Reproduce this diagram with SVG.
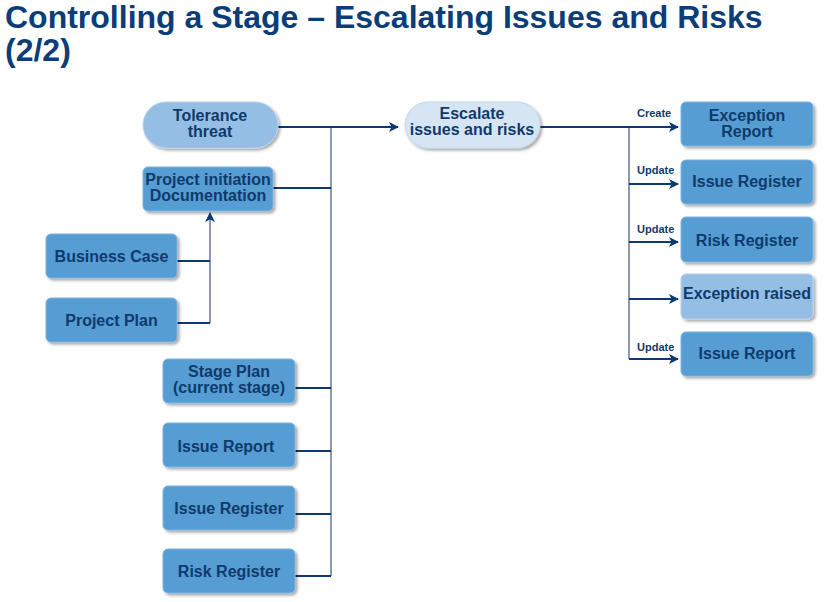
<svg xmlns="http://www.w3.org/2000/svg" width="825" height="602" viewBox="0 0 825 602">
<defs>
<filter id="sh" x="-10%" y="-10%" width="125%" height="135%">
<feGaussianBlur in="SourceAlpha" stdDeviation="1.5"/>
<feOffset dx="1.5" dy="2" result="b"/>
<feComponentTransfer><feFuncA type="linear" slope="0.35"/></feComponentTransfer>
<feMerge><feMergeNode/><feMergeNode in="SourceGraphic"/></feMerge>
</filter>
<marker id="ah" viewBox="0 0 10 10" refX="9" refY="5" markerWidth="10" markerHeight="10" markerUnits="userSpaceOnUse" orient="auto">
<path d="M0,0 L10,5 L0,10 L2.5,5 Z" fill="#0b3a6e"/>
</marker>
</defs>
<style>
.title{font-family:"Liberation Sans",Arial,sans-serif;font-weight:bold;font-size:32px;fill:#0b3d78}
.t{font-family:"Liberation Sans",Arial,sans-serif;font-weight:bold;font-size:16px;fill:#0f3a6b;text-anchor:middle}
.lbl{font-family:"Liberation Sans",Arial,sans-serif;font-weight:bold;font-size:11px;fill:#0f3a6b}
.box{fill:#569dd3;stroke:#7fb3df;stroke-width:1;filter:url(#sh)}
.light{fill:#95bee5;stroke:#b5d2ee;stroke-width:1;filter:url(#sh)}
.pale{fill:#d6e5f3;stroke:#c2d6ea;stroke-width:1;filter:url(#sh)}
.ln{fill:none;stroke:#0b3a6e;stroke-width:2}
.vl{fill:none;stroke:#6f7fa0;stroke-width:1.6}
</style>
<rect width="825" height="602" fill="#ffffff"/>
<text class="title" x="5" y="28">Controlling a Stage – Escalating Issues and Risks</text>
<text class="title" x="5" y="61">(2/2)</text>

<g id="connectors">
<line class="vl" x1="331" y1="127" x2="331" y2="576"/>
<line class="vl" x1="210" y1="323" x2="210" y2="215"/>
<line class="vl" x1="629" y1="127" x2="629" y2="359"/>
<path class="ln" d="M278,127 H398" marker-end="url(#ah)"/>
<path class="ln" d="M273,188 H331"/>
<path class="ln" d="M295,388 H331"/>
<path class="ln" d="M295,451 H331"/>
<path class="ln" d="M295,514 H331"/>
<path class="ln" d="M295,576 H331"/>
<path class="ln" d="M177,261 H210"/>
<path class="ln" d="M177,323 H210"/>
<path d="M210,212 L215,222 L210,219.5 L205,222 Z" fill="#0b3a6e"/>
<path class="ln" d="M540,127 H678" marker-end="url(#ah)"/>
<path class="ln" d="M629,184 H678" marker-end="url(#ah)"/>
<path class="ln" d="M629,242 H678" marker-end="url(#ah)"/>
<path class="ln" d="M629,299 H678" marker-end="url(#ah)"/>
<path class="ln" d="M629,359 H678" marker-end="url(#ah)"/>
<text class="lbl" x="637" y="117">Create</text>
<text class="lbl" x="637" y="174">Update</text>
<text class="lbl" x="637" y="233">Update</text>
<text class="lbl" x="637" y="351">Update</text>
</g>

<g id="tolerance">
<rect class="light" x="143" y="102" width="135" height="46" rx="23"/>
<text class="t" x="210" y="121">Tolerance</text>
<text class="t" x="210" y="137">threat</text>
</g>
<g id="escalate">
<rect class="pale" x="405" y="102" width="135" height="46" rx="23"/>
<text class="t" x="472" y="119">Escalate</text>
<text class="t" x="472" y="135">issues and risks</text>
</g>
<g id="pid">
<rect class="box" x="143" y="167" width="130" height="44" rx="5"/>
<text class="t" x="208" y="185">Project initiation</text>
<text class="t" x="208" y="201">Documentation</text>
</g>
<g id="business-case">
<rect class="box" x="46" y="234" width="131" height="44" rx="5"/>
<text class="t" x="111.5" y="262">Business Case</text>
</g>
<g id="project-plan">
<rect class="box" x="46" y="298" width="131" height="44" rx="5"/>
<text class="t" x="111.5" y="326">Project Plan</text>
</g>
<g id="stage-plan">
<rect class="box" x="163" y="359" width="132" height="44" rx="5"/>
<text class="t" x="229" y="377">Stage Plan</text>
<text class="t" x="229" y="393">(current stage)</text>
</g>
<g id="issue-report-in">
<rect class="box" x="163" y="423" width="132" height="44" rx="5"/>
<text class="t" x="226" y="452">Issue Report</text>
</g>
<g id="issue-register-in">
<rect class="box" x="163" y="486" width="132" height="44" rx="5"/>
<text class="t" x="229" y="514">Issue Register</text>
</g>
<g id="risk-register-in">
<rect class="box" x="163" y="549" width="132" height="44" rx="5"/>
<text class="t" x="229" y="577">Risk Register</text>
</g>
<g id="exception-report">
<rect class="box" x="681" y="102" width="132" height="44" rx="5"/>
<text class="t" x="747" y="121">Exception</text>
<text class="t" x="747" y="137">Report</text>
</g>
<g id="issue-register-out">
<rect class="box" x="681" y="160" width="132" height="44" rx="5"/>
<text class="t" x="747" y="187">Issue Register</text>
</g>
<g id="risk-register-out">
<rect class="box" x="681" y="217" width="132" height="45" rx="5"/>
<text class="t" x="747" y="246">Risk Register</text>
</g>
<g id="exception-raised">
<rect class="light" x="681" y="274" width="132" height="45" rx="5"/>
<text class="t" x="747" y="299">Exception raised</text>
</g>
<g id="issue-report-out">
<rect class="box" x="681" y="332" width="132" height="44" rx="5"/>
<text class="t" x="747" y="359">Issue Report</text>
</g>
</svg>
